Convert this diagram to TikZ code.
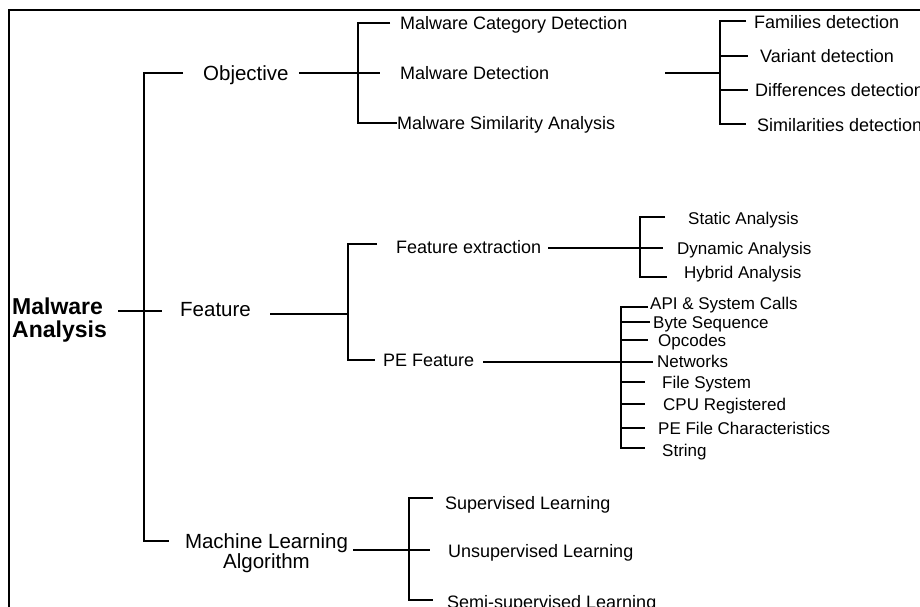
\documentclass[tikz,border=0pt]{standalone}
\usepackage{fontspec}
\setmainfont{Liberation Sans}
\usetikzlibrary{positioning, calc}

\begin{document}
\begin{tikzpicture}[
    x=1pt, y=-1pt,
    lvlroot/.style={font=\fontsize{23}{23}\selectfont\bfseries, inner sep=0pt, align=left, anchor=west},
    lvlone/.style={font=\fontsize{20.5}{20}\selectfont, inner sep=0pt, anchor=west, text height=14.7pt, text depth=0pt},
    lvltwo/.style={font=\fontsize{18}{20}\selectfont, inner sep=0pt, anchor=west, text height=12.9pt, text depth=0pt},
    leaf/.style={font=\fontsize{17}{20}\selectfont, inner sep=0pt, anchor=west, text height=12.2pt, text depth=0pt},
    joint/.style={line width=2.6pt},
    wire/.style={line width=1.5pt},
    frame/.style={line width=2pt}
]
\useasboundingbox (0,0) rectangle (920,607);
\clip (0,0) rectangle (920,607);

% frame
\draw[frame] (9,620) |- (940,10);

% root and first level
\node[lvlroot] (root) at (12,320) {Malware\\Analysis};
\node[lvlone] (obj) at (203,73) {Objective};
\node[lvlone] (feat) at (180,309) {Feature};
\node[font=\fontsize{20.5}{20}\selectfont, inner sep=0pt, align=center] (ml) at (266.5,553) {Machine Learning\\Algorithm};

\coordinate (rootbar) at (144,311);
\draw[joint] ([xshift=-20pt]obj.west) -| (rootbar) |- ([xshift=-16pt,yshift=12pt]ml.west);
\draw[wire] (rootbar) ++(-26,0) -- ++(44,0);

% objective
\node[lvltwo] (mcd) at (400,23) {Malware Category Detection};
\node[lvltwo] (md) at (400,73) {Malware Detection};
\node[lvltwo] (msa) at (397,123) {Malware Similarity Analysis};
\coordinate (objbar) at (358,73);
\draw[wire] ([xshift=10pt]obj.east) -- ([xshift=-20pt]md.west);
\draw[joint] ([xshift=-10pt]mcd.west) -| (objbar) |- (msa.west);

\node[lvltwo] (fam) at (754,22) {Families detection};
\node[lvltwo] (var) at (760,56) {Variant detection};
\node[lvltwo] (dif) at (755,90) {Differences detection};
\node[lvltwo] (sim) at (757,125) {Similarities detection};
\coordinate (mdbar) at (720,73);
\draw[wire] (mdbar) -- ++(-55,0);
\draw[joint] ([xshift=-8pt,yshift=1pt]fam.west) -| (mdbar) |- ([xshift=-11pt,yshift=1pt]sim.west);
\draw[joint] (mdbar |- var) -- ([xshift=-12pt]var.west);
\draw[joint] (mdbar |- dif) -- ([xshift=-7pt]dif.west);

% feature
\node[lvltwo] (fe) at (396,247) {Feature extraction};
\node[lvltwo] (pe) at (383,360) {PE Feature};
\coordinate (featbar) at (348,314);
\draw[joint] (featbar) -- ++(-78,0);
\draw[joint] ([xshift=-19pt,yshift=3pt]fe.west) -| (featbar) |- ([xshift=-8pt]pe.west);

\node[leaf] (sta) at (688,218) {Static Analysis};
\node[leaf] (dyn) at (677,248) {Dynamic Analysis};
\node[leaf] (hyb) at (684,272) {Hybrid Analysis};
\coordinate (febar) at (640,248);
\draw[wire] (febar) ++(-92,0) -- ++(115,0);
\draw[wire] ([xshift=-23pt,yshift=1pt]sta.west) -| (febar) |- ([xshift=-17pt,yshift=-5pt]hyb.west);

\node[leaf] (api) at (650,303) {API \& System Calls};
\node[leaf] (byte) at (653,322) {Byte Sequence};
\node[leaf] (opc) at (658,340) {Opcodes};
\node[leaf] (net) at (657,361) {Networks};
\node[leaf] (fs) at (662,382) {File System};
\node[leaf] (cpu) at (663,404) {CPU Registered};
\node[leaf] (pefc) at (658,428) {PE File Characteristics};
\node[leaf] (str) at (662,450) {String};
\coordinate (pebar) at (621,362);
\draw[wire] (pebar) ++(-138,0) -- ++(170,0);
\draw[joint] ([xshift=-2pt,yshift=-4pt]api.west) -| (pebar) |- ([xshift=-17pt,yshift=2pt]str.west);
\foreach \n/\g in {byte/3, opc/10}
    \draw[wire] (pebar |- \n) -- ([xshift=-\g pt]\n.west);
\foreach \n/\g in {fs/17, cpu/18, pefc/13}
    \draw[joint] (pebar |- \n) -- ([xshift=-\g pt]\n.west);

% machine learning
\node[lvltwo] (sup) at (445,503) {Supervised Learning};
\node[lvltwo] (uns) at (448,551) {Unsupervised Learning};
\node[lvltwo] (semi) at (447,602) {Semi-supervised Learning};
\coordinate (mlbar) at (409,550);
\draw[wire] (mlbar) ++(-56,0) -- ++(77,0);
\draw[joint] ([xshift=-12pt,yshift=5pt]sup.west) -| (mlbar) |- ([xshift=-14pt,yshift=2pt]semi.west);

\end{tikzpicture}
\end{document}
